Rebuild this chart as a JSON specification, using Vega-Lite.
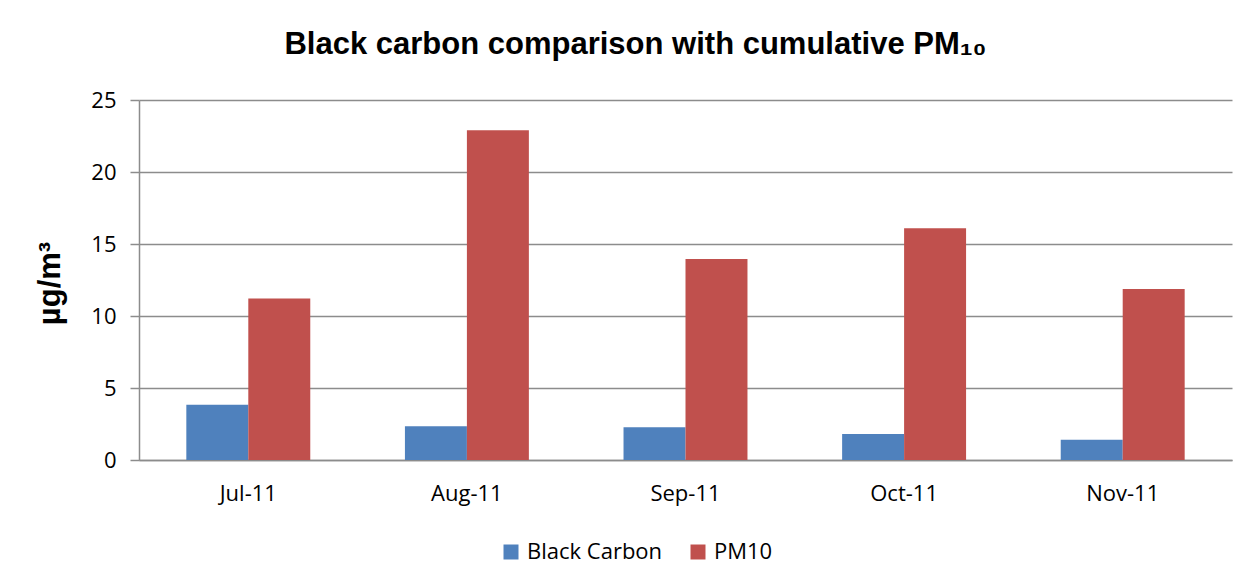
{
  "$schema": "https://vega.github.io/schema/vega-lite/v6.json",
  "autosize": "none",
  "width": 1093,
  "height": 360,
  "padding": {"left": 139, "top": 100, "right": 28, "bottom": 128},
  "background": "white",
  "title": {
    "text": "Black carbon comparison with cumulative PM₁₀",
    "font": "Liberation Sans",
    "fontSize": 31,
    "fontWeight": "bold",
    "color": "#000000",
    "anchor": "middle",
    "dx": -50,
    "offset": 4,
    "baseline": "alphabetic"
  },
  "data": {
    "values": [
      {"month": "Jul-11", "series": "Black Carbon", "value": 3.83},
      {"month": "Jul-11", "series": "PM10", "value": 11.22},
      {"month": "Aug-11", "series": "Black Carbon", "value": 2.35},
      {"month": "Aug-11", "series": "PM10", "value": 22.9},
      {"month": "Sep-11", "series": "Black Carbon", "value": 2.28},
      {"month": "Sep-11", "series": "PM10", "value": 13.95},
      {"month": "Oct-11", "series": "Black Carbon", "value": 1.81},
      {"month": "Oct-11", "series": "PM10", "value": 16.1},
      {"month": "Nov-11", "series": "Black Carbon", "value": 1.4},
      {"month": "Nov-11", "series": "PM10", "value": 11.87}
    ]
  },
  "mark": {"type": "bar"},
  "encoding": {
    "x": {
      "field": "month",
      "type": "nominal",
      "sort": ["Jul-11", "Aug-11", "Sep-11", "Oct-11", "Nov-11"],
      "scale": {"paddingInner": 0.433, "paddingOuter": 0.2165},
      "axis": {
        "title": null,
        "labelAngle": 0,
        "labelFont": "Open Sans",
        "labelFontSize": 22,
        "labelColor": "#000000",
        "labelPadding": 23,
        "ticks": false,
        "domain": true,
        "domainColor": "#8c8c8c",
        "domainWidth": 1.5,
        "grid": false
      }
    },
    "xOffset": {
      "field": "series",
      "type": "nominal",
      "scale": {"paddingInner": 0, "paddingOuter": 0}
    },
    "y": {
      "field": "value",
      "type": "quantitative",
      "scale": {"domain": [0, 25], "nice": false},
      "axis": {
        "title": "µg/m³",
        "titleFont": "Liberation Sans",
        "titleFontSize": 31,
        "titleFontWeight": "bold",
        "titleColor": "#000000",
        "titleAngle": -90,
        "titleX": -89,
        "titleY": 183,
        "titleAlign": "center",
        "titleBaseline": "middle",
        "values": [0, 5, 10, 15, 20, 25],
        "labelFont": "Open Sans",
        "labelFontSize": 22,
        "labelColor": "#000000",
        "labelPadding": 14,
        "tickSize": 9,
        "tickColor": "#8c8c8c",
        "tickWidth": 1.5,
        "domainColor": "#8c8c8c",
        "domainWidth": 1.5,
        "grid": true,
        "gridColor": "#8c8c8c",
        "gridWidth": 1.5
      }
    },
    "color": {
      "field": "series",
      "type": "nominal",
      "scale": {"domain": ["Black Carbon", "PM10"], "range": ["#4F81BD", "#C0504D"]},
      "legend": {
        "title": null,
        "orient": "none",
        "direction": "horizontal",
        "legendX": 361,
        "legendY": 441,
        "symbolType": "square",
        "symbolSize": 225,
        "symbolStrokeWidth": 0,
        "labelFont": "Open Sans",
        "labelFontSize": 22,
        "labelColor": "#000000",
        "columnPadding": 24,
        "labelOffset": 5
      }
    }
  },
  "config": {
    "view": {"stroke": null}
  }
}
